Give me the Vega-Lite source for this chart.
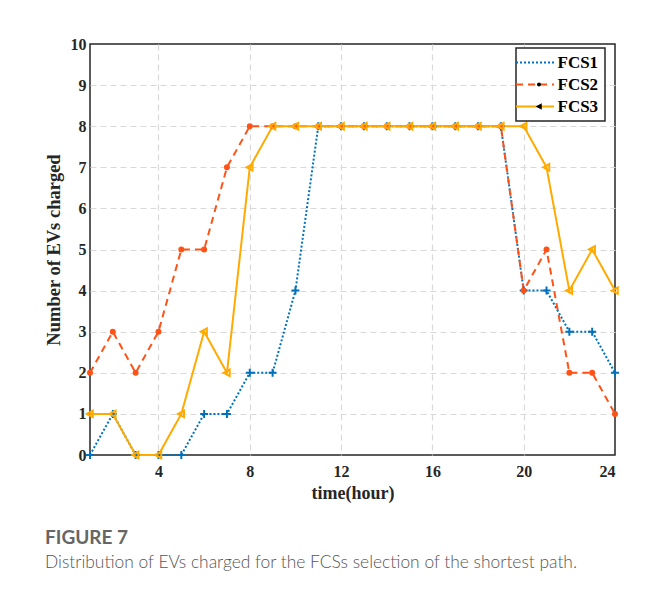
{
  "$schema": "https://vega.github.io/schema/vega-lite/v6.json",
  "width": 525,
  "height": 411,
  "padding": {"left": 44, "top": 36, "right": 10, "bottom": 10},
  "background": "white",
  "title": {
    "text": "FIGURE 7",
    "subtitle": "Distribution of EVs charged for the FCSs selection of the shortest path.",
    "orient": "bottom",
    "anchor": "start",
    "frame": "bounds",
    "dx": 1,
    "offset": 27,
    "font": "Lato",
    "fontWeight": "bold",
    "fontSize": 19,
    "color": "#666666",
    "subtitleFont": "Lato",
    "subtitleFontWeight": 300,
    "subtitleFontSize": 17.4,
    "subtitleColor": "#555555",
    "subtitlePadding": 6
  },
  "data": {
    "values": [
      {"hour": 1, "station": "FCS1", "evs": 0}, {"hour": 2, "station": "FCS1", "evs": 1},
      {"hour": 3, "station": "FCS1", "evs": 0}, {"hour": 4, "station": "FCS1", "evs": 0},
      {"hour": 5, "station": "FCS1", "evs": 0}, {"hour": 6, "station": "FCS1", "evs": 1},
      {"hour": 7, "station": "FCS1", "evs": 1}, {"hour": 8, "station": "FCS1", "evs": 2},
      {"hour": 9, "station": "FCS1", "evs": 2}, {"hour": 10, "station": "FCS1", "evs": 4},
      {"hour": 11, "station": "FCS1", "evs": 8}, {"hour": 12, "station": "FCS1", "evs": 8},
      {"hour": 13, "station": "FCS1", "evs": 8}, {"hour": 14, "station": "FCS1", "evs": 8},
      {"hour": 15, "station": "FCS1", "evs": 8}, {"hour": 16, "station": "FCS1", "evs": 8},
      {"hour": 17, "station": "FCS1", "evs": 8}, {"hour": 18, "station": "FCS1", "evs": 8},
      {"hour": 19, "station": "FCS1", "evs": 8}, {"hour": 20, "station": "FCS1", "evs": 4},
      {"hour": 21, "station": "FCS1", "evs": 4}, {"hour": 22, "station": "FCS1", "evs": 3},
      {"hour": 23, "station": "FCS1", "evs": 3}, {"hour": 24, "station": "FCS1", "evs": 2},
      {"hour": 1, "station": "FCS2", "evs": 2}, {"hour": 2, "station": "FCS2", "evs": 3},
      {"hour": 3, "station": "FCS2", "evs": 2}, {"hour": 4, "station": "FCS2", "evs": 3},
      {"hour": 5, "station": "FCS2", "evs": 5}, {"hour": 6, "station": "FCS2", "evs": 5},
      {"hour": 7, "station": "FCS2", "evs": 7}, {"hour": 8, "station": "FCS2", "evs": 8},
      {"hour": 9, "station": "FCS2", "evs": 8}, {"hour": 10, "station": "FCS2", "evs": 8},
      {"hour": 11, "station": "FCS2", "evs": 8}, {"hour": 12, "station": "FCS2", "evs": 8},
      {"hour": 13, "station": "FCS2", "evs": 8}, {"hour": 14, "station": "FCS2", "evs": 8},
      {"hour": 15, "station": "FCS2", "evs": 8}, {"hour": 16, "station": "FCS2", "evs": 8},
      {"hour": 17, "station": "FCS2", "evs": 8}, {"hour": 18, "station": "FCS2", "evs": 8},
      {"hour": 19, "station": "FCS2", "evs": 8}, {"hour": 20, "station": "FCS2", "evs": 4},
      {"hour": 21, "station": "FCS2", "evs": 5}, {"hour": 22, "station": "FCS2", "evs": 2},
      {"hour": 23, "station": "FCS2", "evs": 2}, {"hour": 24, "station": "FCS2", "evs": 1},
      {"hour": 1, "station": "FCS3", "evs": 1}, {"hour": 2, "station": "FCS3", "evs": 1},
      {"hour": 3, "station": "FCS3", "evs": 0}, {"hour": 4, "station": "FCS3", "evs": 0},
      {"hour": 5, "station": "FCS3", "evs": 1}, {"hour": 6, "station": "FCS3", "evs": 3},
      {"hour": 7, "station": "FCS3", "evs": 2}, {"hour": 8, "station": "FCS3", "evs": 7},
      {"hour": 9, "station": "FCS3", "evs": 8}, {"hour": 10, "station": "FCS3", "evs": 8},
      {"hour": 11, "station": "FCS3", "evs": 8}, {"hour": 12, "station": "FCS3", "evs": 8},
      {"hour": 13, "station": "FCS3", "evs": 8}, {"hour": 14, "station": "FCS3", "evs": 8},
      {"hour": 15, "station": "FCS3", "evs": 8}, {"hour": 16, "station": "FCS3", "evs": 8},
      {"hour": 17, "station": "FCS3", "evs": 8}, {"hour": 18, "station": "FCS3", "evs": 8},
      {"hour": 19, "station": "FCS3", "evs": 8}, {"hour": 20, "station": "FCS3", "evs": 8},
      {"hour": 21, "station": "FCS3", "evs": 7}, {"hour": 22, "station": "FCS3", "evs": 4},
      {"hour": 23, "station": "FCS3", "evs": 5}, {"hour": 24, "station": "FCS3", "evs": 4}
    ]
  },
  "layer": [
    {
      "mark": {"type": "line", "strokeWidth": 2},
      "encoding": {
        "x": {
          "field": "hour", "type": "quantitative",
          "scale": {"domain": [1, 24], "nice": false, "zero": false},
          "axis": {
            "orient": "bottom",
            "values": [1,2,3,4,5,6,7,8,9,10,11,12,13,14,15,16,17,18,19,20,21,22,23,24],
            "labelExpr": "datum.value % 4 === 0 ? format(datum.value, 'd') : ''",
            "labelOverlap": false,
            "labelPadding": 8,
            "tickSize": 0,
            "domain": false,
            "grid": true,
            "gridOpacity": {"condition": {"test": "datum.value % 4 === 0 && datum.value < 24", "value": 1}, "value": 0},
            "title": "time(hour)",
            "titleFontSize": 18,
            "titlePadding": 5,
            "encode": {
              "ticks": {"update": {"y2": {"signal": "datum.value % 4 === 0 ? -6 : -3.5"}}}
            }
          }
        },
        "y": {
          "field": "evs", "type": "quantitative",
          "scale": {"domain": [0, 10], "nice": false},
          "axis": {
            "orient": "left",
            "values": [0,0.2,0.4,0.6,0.8,1,1.2,1.4,1.6,1.8,2,2.2,2.4,2.6,2.8,3,3.2,3.4,3.6,3.8,4,4.2,4.4,4.6,4.8,5,5.2,5.4,5.6,5.8,6,6.2,6.4,6.6,6.8,7,7.2,7.4,7.6,7.8,8,8.2,8.4,8.6,8.8,9,9.2,9.4,9.6,9.8,10],
            "labelExpr": "datum.value % 1 === 0 ? format(datum.value, 'd') : ''",
            "labelOverlap": false,
            "labelPadding": 4,
            "tickSize": 0,
            "domain": false,
            "grid": true,
            "gridOpacity": {"condition": {"test": "datum.value % 1 === 0 && datum.value > 0 && datum.value < 10", "value": 1}, "value": 0},
            "title": "Number of EVs charged",
            "titleFontSize": 18.5,
            "titlePadding": 7,
            "encode": {
              "ticks": {"update": {"x2": {"signal": "datum.value % 1 === 0 ? 6 : 3.5"}}}
            }
          }
        },
        "color": {
          "field": "station", "type": "nominal",
          "scale": {"range": ["#0072bd", "#ff5216", "#ffaa00"]},
          "legend": {
            "symbolType": "M-3.8,0H3.8",
            "symbolOffset": 4.5,
            "labelOffset": 14,
            "strokeColor": "#262626",
            "fillColor": "white",
            "encode": {"legend": {"update": {"strokeWidth": {"value": 1.5}}}}
          }
        },
        "strokeDash": {
          "field": "station", "type": "nominal",
          "scale": {"range": [[2, 2], [7, 5], [1, 0]]},
          "legend": {
            "symbolType": "M-3.8,0H3.8",
            "symbolOffset": 4.5,
            "labelOffset": 14,
            "strokeColor": "#262626",
            "fillColor": "white",
            "encode": {"legend": {"update": {"strokeWidth": {"value": 1.5}}}}
          }
        }
      }
    },
    {
      "mark": {"type": "point", "strokeWidth": 2, "size": 100, "opacity": 1},
      "encoding": {
        "x": {
          "field": "hour", "type": "quantitative",
          "axis": {
            "orient": "top",
            "values": [1,2,3,4,5,6,7,8,9,10,11,12,13,14,15,16,17,18,19,20,21,22,23,24],
            "labels": false,
            "tickSize": 0,
            "domain": false,
            "grid": false,
            "title": null,
            "encode": {"ticks": {"update": {"y2": {"signal": "datum.value % 4 === 0 ? 6 : 3.5"}}}}
          }
        },
        "y": {
          "field": "evs", "type": "quantitative",
          "axis": {
            "orient": "right",
            "values": [0,0.2,0.4,0.6,0.8,1,1.2,1.4,1.6,1.8,2,2.2,2.4,2.6,2.8,3,3.2,3.4,3.6,3.8,4,4.2,4.4,4.6,4.8,5,5.2,5.4,5.6,5.8,6,6.2,6.4,6.6,6.8,7,7.2,7.4,7.6,7.8,8,8.2,8.4,8.6,8.8,9,9.2,9.4,9.6,9.8,10],
            "labels": false,
            "tickSize": 0,
            "domain": false,
            "grid": false,
            "title": null,
            "encode": {"ticks": {"update": {"x2": {"signal": "datum.value % 1 === 0 ? -6 : -3.5"}}}}
          }
        },
        "shape": {
          "field": "station", "type": "nominal",
          "scale": {
            "domain": ["FCS1", "FCS2", "FCS3"],
            "range": [
              "M-0.8,0H0.8M0,-0.8V0.8",
              "M-0.4,0A0.4,0.4,0,1,1,0.4,0A0.4,0.4,0,1,1,-0.4,0Z",
              "M-0.65,0L0.55,-0.65L0.55,0.65Z"
            ]
          },
          "legend": {
            "symbolOffset": 8.5,
            "labelExpr": "''",
            "strokeColor": "transparent",
            "fillColor": "transparent",
            "encode": {
              "symbols": {
                "update": {
                  "stroke": {"scale": "stroke", "field": "value"},
                  "fill": {"scale": "fill", "field": "value"},
                  "strokeDash": {"value": [1, 0]},
                  "strokeWidth": {"value": 2}
                }
              }
            }
          }
        },
        "stroke": {
          "field": "station", "type": "nominal",
          "scale": {"range": ["#0072bd", "#ff5216", "#ffaa00"]},
          "legend": null
        },
        "fill": {
          "field": "station", "type": "nominal",
          "scale": {"range": ["transparent", "#ff5216", "transparent"]},
          "legend": null
        }
      }
    }
  ],
  "resolve": {"axis": {"x": "independent", "y": "independent"}},
  "config": {
    "view": {"stroke": "#262626", "strokeWidth": 1.5},
    "axis": {
      "labelFont": "Liberation Serif",
      "labelFontWeight": "bold",
      "labelFontSize": 16,
      "labelColor": "#262626",
      "titleFont": "Liberation Serif",
      "titleFontWeight": "bold",
      "titleColor": "#262626",
      "tickColor": "#262626",
      "tickWidth": 1.2,
      "gridColor": "#d9d9d9",
      "gridDash": [6, 4],
      "gridWidth": 1.2
    },
    "legend": {
      "orient": "none",
      "legendX": 426,
      "legendY": 4,
      "title": null,
      "symbolSize": 100,
      "symbolStrokeWidth": 2,
      "symbolOffset": 7.5,
      "labelOffset": 21,
      "rowPadding": 4,
      "padding": 6,
      "labelFont": "Liberation Serif",
      "labelFontWeight": "bold",
      "labelFontSize": 17,
      "labelColor": "#000000"
    }
  }
}
